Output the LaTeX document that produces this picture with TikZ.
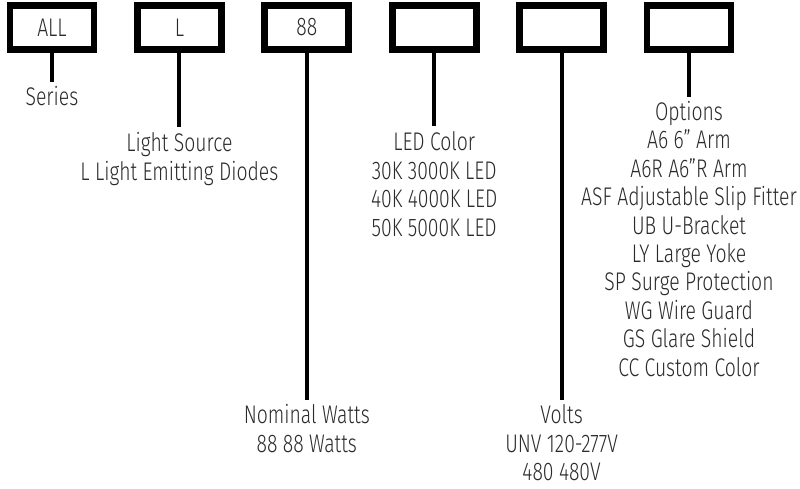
\documentclass[tikz,border=0pt]{standalone}
\usepackage{fontspec}
\setmainfont{Fira Sans Light}[FakeStretch=0.76]
\definecolor{txt}{HTML}{2A2A2A}
\begin{document}
\begin{tikzpicture}[x=1pt,y=-1pt,
  codebox/.style={draw=black, line width=6.7pt, minimum width=84pt, minimum height=44.4pt,
    inner sep=0pt, font=\fontsize{25.5}{28}\selectfont, text=txt},
  stem/.style={line width=4pt, draw=black},
  lbl/.style={font=\fontsize{25.5}{28}\selectfont, text=txt, inner sep=0pt, anchor=base}]
\useasboundingbox (0,0) rectangle (800,488);
% boxes
\node[codebox] (b1) at (52,27.5) {ALL};
\node[codebox] (b2) at (179.4,27.5) {L};
\node[codebox] (b3) at (306.8,27.5) {88};
\node[codebox] (b4) at (434.2,27.5) {};
\node[codebox] (b5) at (561.6,27.5) {};
\node[codebox] (b6) at (689,27.5) {};
% stem ends
\coordinate (e1) at (52,82);
\coordinate (e2) at (179.4,127);
\coordinate (e3) at (306.8,400);
\coordinate (e4) at (434.2,126);
\coordinate (e5) at (561.6,400);
\coordinate (e6) at (689,97);
\foreach \i in {1,...,6} { \draw[stem] (b\i.south) -- (e\i); }
% labels
\node[lbl] (series) at (52,105.5) {Series};
\node[lbl] (ls1) at (179.4,151.5) {Light Source};
\node[lbl] (ls2) at (179.4,180.5) {L Light Emitting Diodes};
\node[lbl] (led1) at (434.2,150.5) {LED Color};
\node[lbl] (led2) at (434.2,179) {30K 3000K LED};
\node[lbl] (led3) at (434.2,207.5) {40K 4000K LED};
\node[lbl] (led4) at (434.2,236) {50K 5000K LED};
\node[lbl] (nw1) at (306.8,423.5) {Nominal Watts};
\node[lbl] (nw2) at (306.8,452) {88 88 Watts};
\node[lbl] (v1) at (561.6,423.5) {Volts};
\node[lbl] (v2) at (561.6,452) {UNV 120-277V};
\node[lbl] (v3) at (561.6,480.5) {480 480V};
\foreach \t [count=\k from 0] in {Options,{A6 6" Arm},{A6R A6"R Arm},{ASF Adjustable Slip Fitter},{UB U-Bracket},{LY Large Yoke},{SP Surge Protection},{WG Wire Guard},{GS Glare Shield},{CC Custom Color}}
  { \node[lbl] (opt\k) at (689,120.5+28.4*\k) {\t}; }
\end{tikzpicture}
\end{document}
